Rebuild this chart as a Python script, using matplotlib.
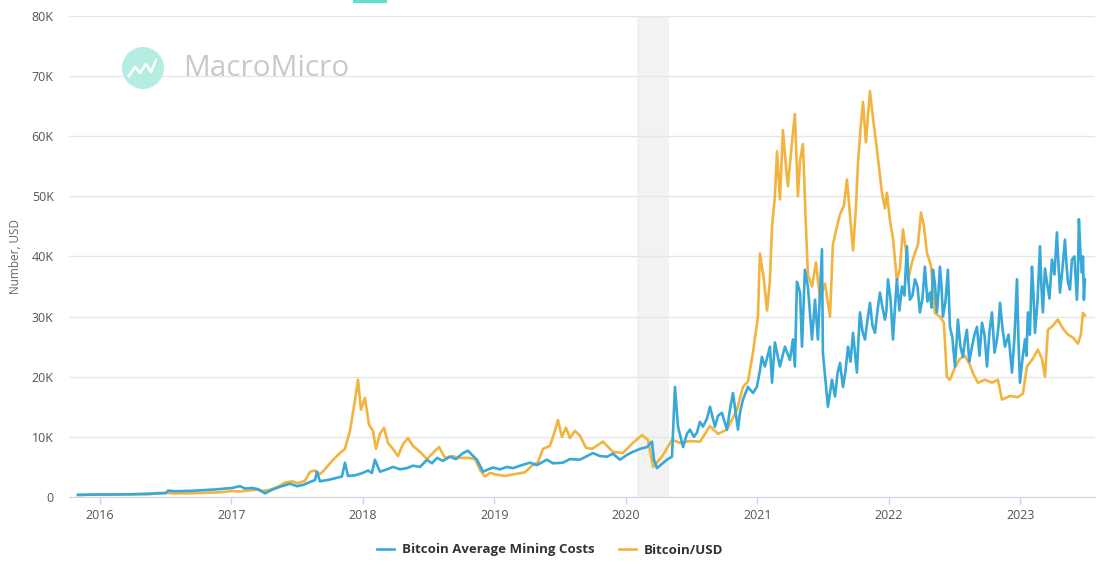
import numpy as np
import matplotlib
matplotlib.use('Agg')
from matplotlib import pyplot as plt
from matplotlib.patches import Rectangle
from matplotlib.lines import Line2D

# Bitcoin/USD (thousands of USD), time in decimal years
btc_t = [2015.833, 2015.878, 2015.924, 2016.000, 2016.076, 2016.152, 2016.228, 2016.304, 2016.380, 2016.433,
         2016.494, 2016.570, 2016.646, 2016.722, 2016.799, 2016.875, 2016.951, 2017.004, 2017.065, 2017.141,
         2017.202, 2017.232, 2017.293, 2017.354, 2017.407, 2017.460, 2017.506, 2017.559, 2017.597, 2017.635,
         2017.673, 2017.711, 2017.749, 2017.787, 2017.825, 2017.863, 2017.901, 2017.939, 2017.962, 2017.985,
         2018.015, 2018.046, 2018.076, 2018.099, 2018.129, 2018.160, 2018.190, 2018.228, 2018.266, 2018.304,
         2018.342, 2018.380, 2018.434, 2018.487, 2018.540, 2018.578, 2018.624, 2018.677, 2018.738, 2018.799,
         2018.852, 2018.890, 2018.928, 2018.966, 2019.019, 2019.080, 2019.156, 2019.232, 2019.285, 2019.331,
         2019.369, 2019.422, 2019.460, 2019.483, 2019.513, 2019.544, 2019.574, 2019.612, 2019.650, 2019.696,
         2019.742, 2019.825, 2019.901, 2019.977, 2020.053, 2020.122, 2020.168, 2020.206, 2020.274, 2020.350,
         2020.411, 2020.487, 2020.563, 2020.639, 2020.700, 2020.768, 2020.844, 2020.890, 2020.928, 2020.966,
         2021.004, 2021.019, 2021.050, 2021.073, 2021.095, 2021.111, 2021.133, 2021.149, 2021.171, 2021.194,
         2021.217, 2021.232, 2021.263, 2021.285, 2021.308, 2021.324, 2021.346, 2021.369, 2021.384, 2021.415,
         2021.445, 2021.476, 2021.514, 2021.552, 2021.574, 2021.605, 2021.628, 2021.658, 2021.681, 2021.704,
         2021.727, 2021.749, 2021.765, 2021.787, 2021.803, 2021.825, 2021.856, 2021.879, 2021.909, 2021.947,
         2021.970, 2021.985, 2022.008, 2022.031, 2022.061, 2022.084, 2022.107, 2022.130, 2022.145, 2022.175,
         2022.198, 2022.221, 2022.244, 2022.267, 2022.289, 2022.320, 2022.350, 2022.388, 2022.418, 2022.441,
         2022.464, 2022.502, 2022.540, 2022.578, 2022.616, 2022.639, 2022.677, 2022.730, 2022.784, 2022.829,
         2022.860, 2022.920, 2022.981, 2023.019, 2023.050, 2023.095, 2023.133, 2023.164, 2023.187, 2023.209,
         2023.247, 2023.285, 2023.324, 2023.362, 2023.400, 2023.438, 2023.460, 2023.476, 2023.491]
btc_usd = [0.33, 0.36, 0.43, 0.43, 0.38, 0.41, 0.42, 0.44, 0.45, 0.65,
           0.68, 0.58, 0.61, 0.63, 0.70, 0.74, 0.85, 1.0, 0.9, 1.1,
           1.2, 1.0, 1.2, 1.7, 2.4, 2.6, 2.3, 2.7, 4.2, 4.4,
           3.8, 4.6, 5.6, 6.5, 7.3, 8.0, 11.0, 16.0, 19.5, 14.5,
           16.5, 12.0, 11.0, 8.0, 10.5, 11.5, 9.0, 8.0, 6.8, 8.8,
           9.8, 8.5, 7.5, 6.3, 7.5, 8.3, 6.5, 6.8, 6.5, 6.5,
           6.3, 4.5, 3.4, 4.0, 3.7, 3.5, 3.8, 4.1, 5.2, 5.8,
           8.0, 8.5, 11.0, 12.8, 10.0, 11.5, 9.8, 11.0, 10.2, 8.2,
           8.0, 9.2, 7.5, 7.3, 9.0, 10.3, 9.5, 5.0, 6.7, 9.5,
           9.0, 9.3, 9.2, 11.8, 10.5, 11.2, 14.5, 18.3, 19.2, 24.0,
           30.0, 40.5, 36.0, 31.0, 36.0, 45.0, 50.0, 57.5, 49.5, 61.0,
           55.0, 51.7, 59.0, 63.7, 50.0, 56.0, 58.7, 45.0, 37.0, 35.0,
           39.0, 33.0, 35.5, 30.0, 42.0, 45.0, 47.0, 48.5, 52.8, 47.0,
           41.0, 48.0, 55.6, 62.0, 65.7, 59.0, 67.5, 63.0, 57.8, 50.6,
           48.0, 50.6, 46.0, 43.0, 36.0, 38.0, 44.5, 41.0, 36.0, 39.0,
           40.6, 42.0, 47.3, 45.0, 40.6, 38.5, 30.6, 30.0, 29.0, 20.0,
           19.5, 21.5, 23.0, 23.5, 22.0, 20.6, 19.0, 19.5, 19.0, 19.5,
           16.2, 16.8, 16.6, 17.2, 21.7, 23.0, 24.5, 23.0, 20.0, 27.8,
           28.5, 29.5, 28.0, 27.0, 26.5, 25.5, 27.0, 30.6, 30.2]

# Bitcoin average mining costs (thousands of USD)
cost_t = [2015.833, 2015.924, 2016.000, 2016.152, 2016.304, 2016.456, 2016.502, 2016.517, 2016.570, 2016.646,
          2016.722, 2016.799, 2016.875, 2016.951, 2017.004, 2017.065, 2017.103, 2017.156, 2017.202, 2017.255,
          2017.308, 2017.369, 2017.445, 2017.498, 2017.544, 2017.597, 2017.635, 2017.650, 2017.673, 2017.749,
          2017.802, 2017.840, 2017.863, 2017.886, 2017.939, 2018.000, 2018.038, 2018.068, 2018.091, 2018.129,
          2018.183, 2018.228, 2018.282, 2018.335, 2018.380, 2018.434, 2018.487, 2018.525, 2018.563, 2018.608,
          2018.662, 2018.707, 2018.761, 2018.799, 2018.829, 2018.867, 2018.913, 2018.943, 2018.989, 2019.042,
          2019.095, 2019.141, 2019.194, 2019.270, 2019.323, 2019.399, 2019.445, 2019.521, 2019.574, 2019.650,
          2019.704, 2019.749, 2019.803, 2019.856, 2019.901, 2019.955, 2020.008, 2020.053, 2020.107, 2020.160,
          2020.198, 2020.213, 2020.236, 2020.274, 2020.312, 2020.350, 2020.373, 2020.396, 2020.434, 2020.464,
          2020.487, 2020.517, 2020.540, 2020.563, 2020.586, 2020.616, 2020.639, 2020.677, 2020.700, 2020.730,
          2020.768, 2020.791, 2020.814, 2020.852, 2020.867, 2020.890, 2020.928, 2020.966, 2020.996, 2021.019,
          2021.034, 2021.057, 2021.095, 2021.111, 2021.133, 2021.171, 2021.209, 2021.247, 2021.270, 2021.285,
          2021.301, 2021.324, 2021.339, 2021.361, 2021.384, 2021.415, 2021.438, 2021.460, 2021.491, 2021.498,
          2021.529, 2021.536,
          2021.567, 2021.590, 2021.609, 2021.628, 2021.651, 2021.670, 2021.689, 2021.708, 2021.727, 2021.742,
          2021.757, 2021.768, 2021.780, 2021.799, 2021.818, 2021.837, 2021.856, 2021.875, 2021.894, 2021.913,
          2021.932, 2021.951, 2021.970, 2021.981, 2021.993, 2022.012, 2022.031, 2022.046, 2022.061, 2022.080,
          2022.099, 2022.118, 2022.137, 2022.149, 2022.160, 2022.179, 2022.198, 2022.217, 2022.236, 2022.255,
          2022.274, 2022.293, 2022.312, 2022.324, 2022.335, 2022.350, 2022.365, 2022.377, 2022.388, 2022.400,
          2022.411, 2022.430, 2022.449, 2022.464, 2022.483, 2022.502, 2022.514, 2022.525, 2022.544, 2022.563,
          2022.578, 2022.593, 2022.612, 2022.632, 2022.651, 2022.670, 2022.689, 2022.708, 2022.727, 2022.746,
          2022.765, 2022.784, 2022.803, 2022.822, 2022.834, 2022.845, 2022.864, 2022.883, 2022.910, 2022.936,
          2022.955, 2022.974, 2022.986, 2022.997, 2023.016, 2023.035, 2023.046, 2023.057, 2023.072, 2023.088,
          2023.100, 2023.111, 2023.130, 2023.149, 2023.160, 2023.171, 2023.187, 2023.202, 2023.221, 2023.240,
          2023.259, 2023.278, 2023.290, 2023.301, 2023.320, 2023.339, 2023.351, 2023.362, 2023.377, 2023.392,
          2023.411, 2023.430, 2023.438, 2023.445, 2023.457, 2023.468, 2023.476, 2023.483, 2023.491]
mining_cost = [0.35, 0.38, 0.40, 0.42, 0.50, 0.60, 0.65, 1.05, 0.95, 1.0,
               1.05, 1.15, 1.25, 1.4, 1.5, 1.8, 1.4, 1.5, 1.3, 0.6,
               1.2, 1.7, 2.2, 1.8, 2.0, 2.5, 2.8, 4.2, 2.6, 2.9,
               3.2, 3.4, 5.7, 3.5, 3.6, 4.0, 4.4, 4.0, 6.2, 4.2,
               4.6, 5.0, 4.6, 4.8, 5.2, 5.0, 6.2, 5.6, 6.5, 6.0,
               6.7, 6.3, 7.3, 7.7, 7.0, 6.2, 4.2, 4.5, 4.9, 4.6,
               5.0, 4.8, 5.2, 5.7, 5.3, 6.2, 5.6, 5.7, 6.3, 6.2,
               6.8, 7.3, 6.8, 6.7, 7.2, 6.2, 7.0, 7.5, 8.0, 8.3,
               9.2, 6.2, 4.8, 5.5, 6.2, 6.7, 18.3, 11.7, 8.3, 10.5,
               11.2, 10.0, 10.7, 12.5, 11.7, 13.0, 15.0, 11.7, 13.5, 14.0,
               11.2, 14.5, 17.3, 11.2, 14.0, 16.2, 18.3, 17.3, 18.3, 21.0,
               23.3, 21.7, 25.0, 19.0, 25.7, 21.7, 25.0, 22.8, 26.2, 21.7,
               35.8, 34.0, 25.0, 37.8, 35.0, 26.2, 32.8, 26.2, 41.2, 24.0,
               16.7, 15.0,
               19.5, 16.7, 20.5, 22.3, 18.3, 21.0, 25.0, 22.5, 27.3, 24.0,
               20.7, 26.0, 30.7, 27.5, 26.2, 29.5, 32.3, 28.5, 27.3, 31.0,
               34.0, 31.5, 29.5, 31.0, 36.2, 33.0, 26.2, 31.5, 36.2, 31.0,
               35.0, 33.5, 41.7, 36.0, 32.8, 33.5, 36.2, 35.0, 30.7, 33.0,
               38.3, 32.5, 34.0, 31.5, 37.8, 35.5, 30.7, 34.0, 38.3, 35.0,
               30.0, 32.5, 37.8, 28.3, 26.5, 21.7, 25.5, 29.5, 25.0, 23.3,
               26.0, 27.8, 22.5, 25.0, 27.0, 28.3, 23.5, 29.0, 27.0, 21.7,
               27.5, 30.7, 24.0, 26.2, 28.5, 32.3, 28.0, 25.0, 27.0, 20.7,
               26.5, 36.2, 25.5, 19.0, 23.0, 26.2, 23.5, 30.7, 27.0, 38.3,
               33.5, 27.3, 32.5, 41.7, 35.0, 30.7, 38.0, 35.7, 33.0, 39.5,
               37.0, 44.0, 38.5, 34.0, 38.0, 42.8, 38.5, 35.7, 34.5, 39.5,
               40.0, 32.8, 37.5, 46.2, 40.5, 37.3, 40.0, 32.8, 36.2]
assert len(cost_t) == len(mining_cost) and len(btc_t) == len(btc_usd)

year_ticks = [2016, 2017, 2018, 2019, 2020, 2021, 2022, 2023]
y_ticks = [0, 10, 20, 30, 40, 50, 60, 70, 80]
y_labels = ['0', '10K', '20K', '30K', '40K', '50K', '60K', '70K', '80K']
recession = (2020.084, 2020.327)

blue = '#38a8d8'
orange = '#f2b43e'

plt.rcParams['font.family'] = ['Open Sans', 'DejaVu Sans']

fig = plt.figure(figsize=(11, 5.65), dpi=100)
ax = fig.add_axes([0.0627, 0.1204, 0.9327, 0.8513])

ax.axvspan(recession[0], recession[1], color='#f2f2f2', zorder=0, lw=0)
ax.plot(btc_t, btc_usd, color=orange, linewidth=1.9, zorder=2, label='Bitcoin/USD')
ax.plot(cost_t, mining_cost, color=blue, linewidth=1.9, zorder=3, label='Bitcoin Average Mining Costs')

ax.set_xlim(2015.764, 2023.567)
ax.set_ylim(0, 80)
ax.set_yticks(y_ticks)
ax.set_yticklabels(y_labels)
ax.set_xticks(year_ticks)
ax.set_xticklabels([str(y) for y in year_ticks])
ax.grid(axis='y', color='#e6e6e6', linewidth=1)
ax.set_axisbelow(True)
for s in ['left', 'right', 'top']:
    ax.spines[s].set_visible(False)
ax.spines['bottom'].set_color('#ccd6eb')
ax.tick_params(axis='y', length=0, pad=11, labelsize=9, labelcolor='#555555')
ax.tick_params(axis='x', length=5, width=1, color='#ccd6eb', pad=4, labelsize=9, labelcolor='#555555')
ax.set_ylabel('Number, USD', fontsize=8.5, color='#666666')
ax.yaxis.set_label_coords(-0.046, 0.5)

# watermark (pixel coordinates of the figure)
logo = plt.Circle((143, 565 - 68), 21, transform=None, facecolor='#b5ede2', edgecolor='none', zorder=1)
fig.add_artist(logo)
zx = [129, 135, 140, 146, 151, 156]
zy = [76, 67, 73, 64, 72, 60]
fig.add_artist(Line2D(zx, [565 - v for v in zy], transform=None, color='white', lw=1.8, zorder=2))
fig.text(183 / 1100, 1 - 68 / 565, 'MacroMicro', fontsize=21.5, color='#c9c9c9', va='center', ha='left')
fig.add_artist(Rectangle((353 / 1100, 1 - 3 / 565), 34 / 1100, 3 / 565, transform=fig.transFigure,
                         facecolor='#5fe0c8', edgecolor='none'))

handles, labels = ax.get_legend_handles_labels()
leg = fig.legend(handles[::-1], labels[::-1], loc='center', bbox_to_anchor=(0.5, 1 - 550 / 565),
                 ncol=2, frameon=False, fontsize=9.5, handlelength=1.3, columnspacing=1.8,
                 handletextpad=0.6)
for t in leg.get_texts():
    t.set_fontweight('bold')
    t.set_color('#333333')

fig.savefig('out.png', dpi=100)
